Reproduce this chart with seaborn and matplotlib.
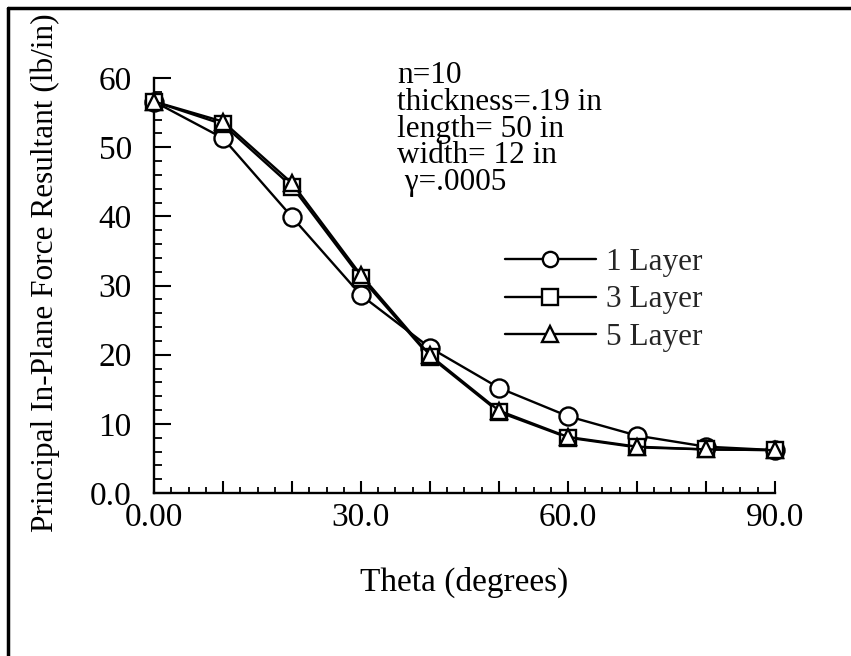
import matplotlib
matplotlib.use("Agg")
import matplotlib.pyplot as plt
import seaborn as sns
import pandas as pd
from matplotlib.lines import Line2D
from matplotlib.ticker import MultipleLocator, FixedLocator, FixedFormatter

theta = [0, 10, 20, 30, 40, 50, 60, 70, 80, 90]
layer1 = [56.6, 51.3, 39.9, 28.6, 21.0, 15.2, 11.1, 8.3, 6.7, 6.2]
layer3 = [56.6, 53.3, 44.3, 31.1, 19.7, 11.7, 8.0, 6.6, 6.3, 6.2]
layer5 = [56.6, 53.7, 44.8, 31.5, 19.9, 11.9, 8.1, 6.7, 6.3, 6.2]
series_names = ["1 Layer", "3 Layer", "5 Layer"]
x_tick_vals = [0, 30, 60, 90]
x_tick_labels = ["0.00", "30.0", "60.0", "90.0"]
x_mid_ticks = [10, 20, 40, 50, 70, 80]
y_tick_vals = [0, 10, 20, 30, 40, 50, 60]
y_tick_labels = ["0.0", "10", "20", "30", "40", "50", "60"]
note_lines = ["n=10", "thickness=.19 in", "length= 50 in", "width= 12 in", " \u03b3=.0005"]

sns.set_theme(style="white")
plt.rcParams["font.family"] = ["Liberation Serif", "DejaVu Serif"]

fig = plt.figure(figsize=(8.51, 6.56), dpi=100)
ax = fig.add_axes([154 / 851, 1 - 493 / 656, (775 - 154) / 851, (493 - 78) / 656])

markers = {"1 Layer": "o", "3 Layer": "s", "5 Layer": "^"}
msizes = {"1 Layer": 13, "3 Layer": 12, "5 Layer": 12}
values = {"1 Layer": layer1, "3 Layer": layer3, "5 Layer": layer5}
for name in series_names:
    df = pd.DataFrame({"theta": theta, "force": values[name]})
    sns.lineplot(data=df, x="theta", y="force", ax=ax, color="black",
                 linewidth=1.7, marker=markers[name], markersize=msizes[name],
                 markerfacecolor="white", markeredgecolor="black",
                 markeredgewidth=1.7, label=name, legend=False, clip_on=False)
for ln in ax.lines:
    ln.set_clip_on(False)
    ln.set_zorder(3)

ax.set_xlim(0, 90)
ax.set_ylim(0, 60)
for s in ["top", "right"]:
    ax.spines[s].set_visible(False)
for s in ["left", "bottom"]:
    ax.spines[s].set_color("black")
    ax.spines[s].set_linewidth(1.7)

ax.xaxis.set_major_locator(FixedLocator(x_tick_vals))
ax.xaxis.set_major_formatter(FixedFormatter(x_tick_labels))
ax.xaxis.set_minor_locator(MultipleLocator(2.5))
ax.yaxis.set_major_locator(FixedLocator(y_tick_vals))
ax.yaxis.set_major_formatter(FixedFormatter(y_tick_labels))
ax.yaxis.set_minor_locator(MultipleLocator(2))

ax.tick_params(axis="both", which="major", direction="in", width=1.5,
               color="black", labelsize=24, labelcolor="black")
ax.tick_params(axis="x", which="major", length=9, pad=7, bottom=True)
ax.tick_params(axis="y", which="major", length=12, pad=16, left=True)
ax.tick_params(axis="x", which="minor", direction="in", length=4, width=1.3,
               color="black", bottom=True)
ax.tick_params(axis="y", which="minor", direction="in", length=6, width=1.3,
               color="black", left=True)

# medium ticks every 10 degrees on x (unlabelled)
tick_h = 60 * (9 * 100 / 72) / 415
for xv in x_mid_ticks:
    ax.plot([xv, xv], [0, tick_h], color="black", linewidth=1.5,
            clip_on=False, solid_capstyle="butt", zorder=2)

ax.set_xlabel("Theta (degrees)", fontsize=24, color="black")
ax.xaxis.set_label_coords(0.5, (493 - 582) / 415)
ax.xaxis.label.set_va("center")
ax.set_ylabel("Principal In-Plane Force Resultant (lb/in)", fontsize=22.5,
              color="black")
ax.yaxis.set_label_coords((45 - 154) / 621, (493 - 273) / 415)
ax.yaxis.label.set_va("center")

# annotation
baselines = [83, 110, 136.5, 163, 190]
for t, b in zip(note_lines, baselines):
    fig.text(397 / 851, 1 - b / 656, t, fontsize=22.5,
             color="black", ha="left", va="baseline")

handles = [ln for ln in ax.lines if ln.get_label() in series_names]
leg = ax.legend(handles=handles, labels=series_names, loc="upper left",
                bbox_to_anchor=(505 / 851, 1 - 248 / 656),
                bbox_transform=fig.transFigure, frameon=False, fontsize=22.5,
                handlelength=2.9, handletextpad=0.32, labelspacing=0.27,
                borderpad=0, borderaxespad=0)
for h in leg.legend_handles:
    h.set_markersize(11)

# page frame lines
fig.add_artist(Line2D([8 / 851, 1.0], [1 - 8 / 656, 1 - 8 / 656],
                      transform=fig.transFigure, color="black", linewidth=2.5))
fig.add_artist(Line2D([8 / 851, 8 / 851], [0, 1 - 8 / 656],
                      transform=fig.transFigure, color="black", linewidth=2.5))

fig.savefig("out.png", dpi=100, facecolor="white")
